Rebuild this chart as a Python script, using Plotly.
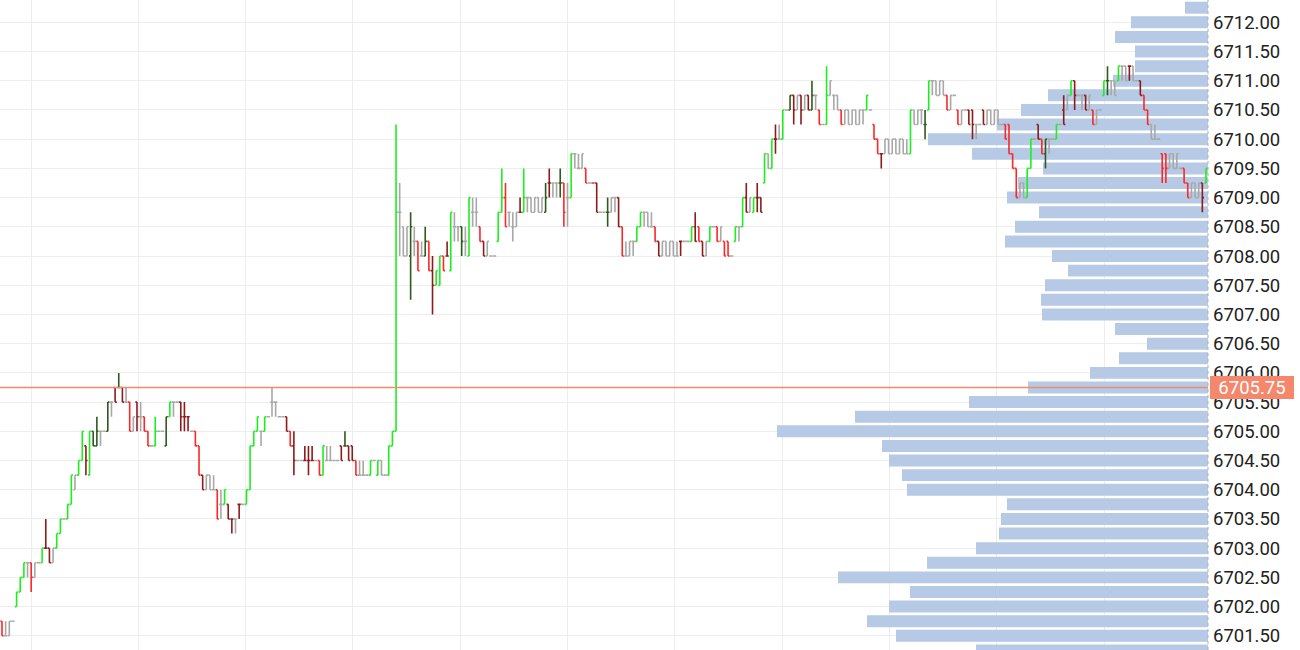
import plotly.graph_objects as go

# ---------------- data (prices in quarter-point ticks above BASE) ----------------
BASE = 6701.50
TICK = 0.25

open_ticks = [
    1, 0, 0, 1, 2, 3, 4, 5, 5, 4,
    5, 5, 6, 6, 5, 6, 7, 8, 8, 9,
    10, 11, 12, 13, 11, 14, 13, 14, 14, 14,
    16, 17, 17, 17, 16, 16, 14, 16, 15, 15,
    14, 13, 13, 14, 14, 13, 15, 16, 16, 16,
    15, 15, 14, 14, 13, 11, 10, 11, 10, 10,
    9, 9, 9, 8, 8, 9, 9, 9, 10, 13,
    14, 14, 14, 15, 16, 16, 15, 15, 15, 14,
    13, 12, 12, 12, 12, 12, 12, 12, 11, 12,
    12, 12, 12, 13, 13, 13, 13, 12, 11, 11,
    11, 11, 12, 11, 12, 11, 11, 13, 14, 29,
    28, 26, 26, 27, 27, 26, 26, 27, 25, 24,
    24, 26, 26, 25, 28, 28, 28, 27, 26, 29,
    29, 28, 27, 26, 26, 26, 27, 29, 30, 29,
    28, 28, 29, 29, 30, 30, 29, 30, 29, 29,
    31, 31, 31, 31, 31, 30, 30, 33, 32, 32,
    32, 31, 31, 31, 29, 29, 29, 29, 30, 30,
    28, 26, 26, 27, 27, 28, 29, 29, 28, 28,
    27, 26, 27, 26, 27, 26, 27, 27, 27, 27,
    28, 28, 27, 26, 27, 28, 28, 27, 27, 27,
    26, 27, 28, 28, 30, 29, 29, 30, 30, 31,
    33, 32, 34, 34, 34, 36, 36, 37, 36, 37,
    36, 37, 36, 37, 36, 35, 35, 37, 37, 37,
    36, 35, 36, 35, 36, 35, 36, 36, 36, 35,
    34, 33, 33, 34, 33, 34, 33, 34, 33, 33,
    36, 35, 36, 35, 36, 38, 38, 37, 38, 37,
    36, 37, 36, 35, 36, 36, 36, 35, 35, 36,
    35, 36, 35, 36, 35, 35, 35, 33, 32, 30,
    31, 30, 32, 34, 35, 34, 33, 34, 34, 34,
    35, 36, 36, 37, 38, 37, 37, 37, 36, 36,
    35, 36, 37, 38, 38, 38, 38, 39, 39, 39,
    39, 38, 38, 37, 36, 35, 34, 34, 33, 33,
    32, 33, 32, 32, 32, 31, 30, 31, 30, 31, 31,
]
high_ticks = [
    1, 1, 1, 1, 3, 4, 5, 5, 5, 5,
    5, 6, 8, 6, 6, 7, 8, 8, 9, 11,
    11, 12, 14, 13, 14, 14, 15, 14, 14, 16,
    16, 17, 18, 17, 17, 16, 15, 16, 16, 15,
    14, 13, 15, 14, 14, 15, 16, 16, 16, 16,
    16, 15, 14, 14, 13, 11, 11, 11, 11, 10,
    10, 10, 9, 8, 8, 9, 9, 10, 13, 14,
    15, 14, 15, 15, 17, 16, 15, 15, 15, 14,
    14, 12, 12, 13, 13, 13, 12, 12, 13, 13,
    13, 12, 12, 13, 14, 13, 13, 12, 12, 12,
    11, 12, 12, 12, 12, 11, 13, 14, 35, 31,
    28, 28, 29, 28, 27, 27, 28, 27, 26, 25,
    26, 26, 27, 29, 29, 28, 28, 28, 30, 30,
    30, 28, 27, 27, 26, 26, 29, 32, 31, 29,
    29, 29, 30, 32, 30, 30, 30, 30, 30, 31,
    32, 31, 31, 32, 31, 31, 33, 33, 33, 33,
    32, 31, 31, 31, 29, 29, 30, 30, 30, 30,
    28, 27, 27, 27, 28, 29, 29, 29, 29, 28,
    27, 27, 27, 27, 27, 27, 27, 27, 27, 28,
    29, 28, 27, 27, 28, 28, 28, 28, 27, 27,
    26, 28, 28, 30, 31, 30, 30, 31, 30, 33,
    33, 34, 35, 35, 36, 36, 37, 37, 37, 37,
    37, 37, 38, 37, 36, 35, 39, 38, 37, 37,
    36, 36, 36, 36, 36, 36, 36, 37, 36, 35,
    34, 33, 34, 34, 34, 34, 34, 34, 34, 36,
    36, 36, 36, 36, 38, 38, 38, 38, 38, 37,
    37, 37, 36, 36, 36, 36, 36, 35, 35, 36,
    36, 36, 36, 36, 35, 35, 35, 33, 32, 31,
    31, 32, 34, 34, 35, 34, 34, 34, 34, 35,
    35, 37, 37, 38, 38, 37, 37, 37, 37, 36,
    36, 36, 38, 39, 38, 38, 39, 39, 39, 39,
    39, 38, 38, 37, 36, 35, 35, 34, 33, 33,
    33, 33, 33, 32, 32, 31, 31, 31, 31, 31, 32,
]
low_ticks = [
    0, 0, 0, 1, 2, 3, 4, 4, 3, 4,
    5, 5, 6, 5, 5, 6, 7, 8, 8, 9,
    10, 11, 12, 11, 11, 13, 13, 13, 14, 14,
    15, 16, 17, 16, 16, 14, 14, 14, 14, 14,
    13, 13, 13, 14, 14, 13, 15, 15, 16, 14,
    14, 14, 14, 13, 11, 10, 10, 10, 10, 8,
    8, 9, 8, 7, 7, 8, 9, 9, 10, 13,
    14, 13, 14, 15, 15, 15, 15, 15, 14, 13,
    11, 12, 12, 12, 11, 12, 12, 11, 11, 12,
    12, 12, 12, 12, 13, 12, 12, 11, 11, 11,
    11, 11, 12, 11, 11, 11, 11, 13, 14, 26,
    26, 26, 23, 26, 25, 26, 26, 25, 22, 24,
    24, 25, 26, 25, 27, 27, 26, 26, 26, 28,
    28, 27, 26, 26, 26, 26, 27, 29, 28, 28,
    27, 28, 29, 29, 29, 29, 29, 29, 29, 29,
    30, 30, 30, 30, 28, 28, 30, 32, 32, 32,
    31, 31, 31, 29, 29, 29, 28, 29, 29, 28,
    26, 26, 26, 26, 27, 28, 28, 28, 28, 27,
    26, 26, 26, 26, 26, 26, 26, 27, 27, 27,
    27, 27, 26, 26, 27, 28, 27, 27, 26, 26,
    26, 27, 27, 28, 29, 29, 29, 29, 29, 31,
    32, 32, 33, 34, 34, 36, 36, 35, 36, 35,
    36, 36, 36, 36, 35, 35, 35, 37, 36, 36,
    35, 35, 35, 35, 35, 35, 35, 36, 36, 34,
    33, 32, 33, 33, 33, 33, 33, 33, 33, 33,
    35, 35, 35, 34, 36, 37, 37, 37, 37, 36,
    36, 37, 35, 35, 36, 35, 34, 34, 35, 35,
    35, 35, 35, 35, 35, 34, 33, 32, 30, 30,
    30, 30, 32, 34, 34, 33, 32, 33, 34, 34,
    35, 35, 36, 37, 36, 37, 36, 36, 36, 35,
    35, 36, 37, 37, 37, 37, 38, 38, 38, 38,
    38, 38, 37, 36, 35, 34, 34, 34, 31, 31,
    32, 32, 32, 32, 31, 30, 30, 30, 30, 29, 31,
]
close_ticks = [
    0, 0, 1, 1, 3, 4, 5, 5, 4, 5,
    5, 6, 6, 5, 6, 7, 8, 8, 9, 11,
    11, 12, 14, 12, 14, 13, 14, 14, 14, 16,
    16, 16, 17, 16, 16, 14, 15, 15, 15, 14,
    13, 13, 14, 14, 14, 15, 16, 16, 16, 15,
    15, 15, 14, 13, 11, 10, 11, 10, 10, 8,
    9, 10, 8, 8, 8, 9, 9, 10, 13, 14,
    15, 14, 15, 15, 16, 16, 15, 15, 14, 13,
    12, 12, 12, 12, 12, 12, 12, 11, 13, 12,
    12, 12, 12, 12, 13, 12, 12, 11, 11, 11,
    11, 12, 12, 12, 11, 11, 13, 14, 29, 29,
    26, 28, 28, 27, 25, 26, 27, 25, 24, 25,
    26, 25, 26, 29, 28, 28, 27, 27, 30, 29,
    29, 27, 26, 27, 26, 26, 29, 30, 28, 29,
    28, 29, 29, 30, 30, 29, 30, 29, 30, 30,
    31, 31, 31, 31, 29, 30, 33, 33, 32, 33,
    31, 31, 31, 29, 29, 29, 29, 30, 30, 28,
    26, 26, 27, 27, 28, 29, 29, 28, 28, 27,
    26, 27, 26, 27, 26, 26, 27, 27, 27, 28,
    27, 27, 26, 27, 28, 28, 27, 28, 26, 26,
    26, 28, 28, 30, 29, 30, 30, 30, 29, 33,
    32, 34, 34, 34, 36, 36, 37, 36, 37, 36,
    37, 36, 37, 37, 35, 35, 37, 38, 37, 36,
    35, 36, 35, 36, 35, 36, 36, 37, 36, 34,
    33, 33, 34, 33, 34, 33, 34, 33, 33, 36,
    35, 36, 36, 35, 38, 38, 37, 38, 37, 36,
    37, 37, 35, 36, 36, 35, 35, 35, 35, 35,
    36, 35, 36, 35, 35, 34, 33, 32, 30, 31,
    30, 32, 34, 34, 34, 33, 34, 34, 34, 35,
    35, 35, 37, 38, 37, 37, 37, 36, 37, 35,
    36, 36, 38, 38, 38, 37, 39, 39, 38, 39,
    38, 38, 37, 36, 35, 34, 34, 34, 32, 32,
    33, 32, 33, 32, 31, 30, 31, 30, 31, 30, 32,
]
# bar kind: G up, R down, g/r weak up/down, n unchanged
bar_kind = (
    "RnnnGGGnRn" "nGrrnGGnGG" "nGGrGggnng" "nrgrnRnrnR" "RnGnngGnnr"
    "rrnRRrnnnR" "nGrrnrnGGG" "GnGnnnnnrR" "rnnrrrnRGn" "nnnrgrrRnn"
    "nGnGnnGGGn" "nngnRngRrG" "GRrGnngnGn" "nRrnnnGGRn" "nnrGnnnnng"
    "rnngRnGnnn" "RnRrnngnnr" "RnnnGGnnnR" "rnnnnnrnnG" "rRrnGnRnRR"
    "nGnGrnGrrG" "nGrnGngrnr" "nrgnRnGnnn" "RnnnnnnGnR" "RrnnnnnnnG"
    "nnngGnnnnR" "nnRnnrrnnr" "nnnnnRRRRn" "nGGnrRgnnG" "nrnGrnnrnR"
    "nnGgnnGnnr" "nnrRRnnnRR" "nnnnRRnnnrG"
)

# volume profile (price level -> volume)
vp_prices = [6712.25, 6712.00, 6711.75, 6711.50, 6711.25, 6711.00, 6710.75, 6710.50, 6710.25,
             6710.00, 6709.75, 6709.50, 6709.25, 6709.00, 6708.75, 6708.50, 6708.25, 6708.00,
             6707.75, 6707.50, 6707.25, 6707.00, 6706.75, 6706.50, 6706.25, 6706.00, 6705.75,
             6705.50, 6705.25, 6705.00, 6704.75, 6704.50, 6704.25, 6704.00, 6703.75, 6703.50,
             6703.25, 6703.00, 6702.75, 6702.50, 6702.25, 6702.00, 6701.75, 6701.50, 6701.25]
vp_volumes = [23, 77, 93, 73, 73, 95, 160, 187, 211,
              280, 236, 165, 190, 201, 169, 193, 203, 156,
              140, 163, 167, 166, 93, 61, 89, 118, 180,
              239, 353, 431, 326, 319, 306, 301, 201, 207,
              209, 232, 281, 370, 298, 319, 341, 312, 232]

last_price = 6705.75
y_tick_step = 0.5

# ---------------- build ----------------
n = min(len(open_ticks), len(high_ticks), len(low_ticks), len(close_ticks), len(bar_kind))
bar_index = list(range(n))
opens = [BASE + TICK * v for v in open_ticks[:n]]
highs = [BASE + TICK * v for v in high_ticks[:n]]
lows = [BASE + TICK * v for v in low_ticks[:n]]
closes = [BASE + TICK * v for v in close_ticks[:n]]

kind_colors = {
    "G": "#1cf01c",
    "R": "#ff2626",
    "g": "#2f5a1e",
    "r": "#8c1c1c",
    "n": "#a8a8a8",
}

fig = go.Figure()

# volume profile on the base x axis (reversed so bars grow from the right edge)
fig.add_trace(go.Bar(
    x=vp_volumes, y=vp_prices, orientation="h",
    marker=dict(color="#b6c9e5", line=dict(width=0)),
    xaxis="x", yaxis="y", showlegend=False, hoverinfo="skip",
))

for k, col in kind_colors.items():
    idx = [i for i in range(n) if bar_kind[i] == k]
    fig.add_trace(go.Ohlc(
        x=[bar_index[i] for i in idx],
        open=[opens[i] for i in idx],
        high=[highs[i] for i in idx],
        low=[lows[i] for i in idx],
        close=[closes[i] for i in idx],
        increasing=dict(line=dict(color=col, width=1.6)),
        decreasing=dict(line=dict(color=col, width=1.6)),
        tickwidth=0.45,
        xaxis="x2", yaxis="y", showlegend=False, hoverinfo="skip",
    ))

px_per_bar = 1204 / (n - 1)
x_lo = -2 / px_per_bar
x_hi = (n - 1) + 2 / px_per_bar

fig.update_layout(
    width=1300, height=650,
    margin=dict(l=0, r=92, t=0, b=0),
    paper_bgcolor="white", plot_bgcolor="white",
    font=dict(family="Roboto", size=18.5, color="#222222"),
    bargap=0.18,
    xaxis=dict(range=[1208, 0], showgrid=False, zeroline=False,
               showticklabels=False, showline=False, fixedrange=True),
    xaxis2=dict(range=[x_lo, x_hi], overlaying="x", anchor="y",
                showgrid=True, gridcolor="#ededed", gridwidth=1,
                tick0=29 / px_per_bar, dtick=107.3 / px_per_bar,
                showticklabels=False, zeroline=False, showline=False,
                rangeslider=dict(visible=False)),
    yaxis=dict(range=[6701.257, 6712.382], side="right",
               tick0=6701.5, dtick=y_tick_step, tickformat=".2f",
               showgrid=True, gridcolor="#ededed", gridwidth=1,
               zeroline=False, showline=False, ticks="",
               ticklabelstandoff=4,
               tickfont=dict(family="Roboto", size=18.5, color="#222222")),
)

# dotted border at price-scale edge
fig.add_shape(type="line", xref="paper", yref="paper", x0=1, x1=1, y0=0, y1=1,
              line=dict(color="#b0b0b0", width=1, dash="dot"), layer="above")

# last price line and label
fig.add_shape(type="line", xref="paper", yref="y", x0=0, x1=1,
              y0=last_price, y1=last_price,
              line=dict(color="#f08a6e", width=1.5), layer="above")
fig.add_annotation(xref="paper", yref="y", x=1, y=last_price,
                   xanchor="left", yanchor="middle", xshift=2,
                   text=f"{last_price:.2f}", showarrow=False,
                   bgcolor="#f4876c", bordercolor="#f4876c", borderpad=2,
                   width=78, height=17,
                   font=dict(family="Roboto", size=18.5, color="white"))

fig.write_html("out.html", config={"displayModeBar": False},
               post_script="document.body.style.margin='0';")
